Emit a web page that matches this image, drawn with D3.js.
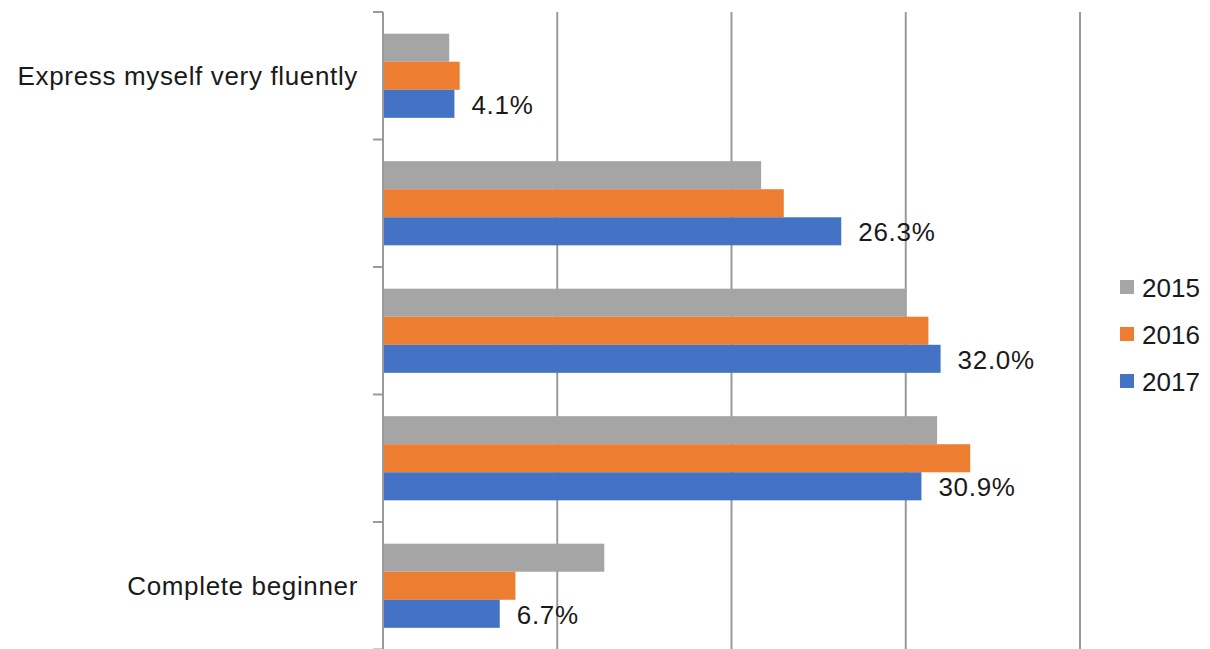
<!DOCTYPE html>
<html>
<head>
<meta charset="utf-8">
<script src="https://cdn.jsdelivr.net/npm/d3@7"></script>
<style>
  html, body { margin: 0; padding: 0; background: #fff; }
  svg { display: block; }
  text { font-family: "Liberation Sans", Arial, sans-serif; fill: #1a1a1a; }
</style>
</head>
<body>
<svg id="chart" width="1210" height="649"></svg>
<script>
// ---- data ----
const categories = ["c1", "c2", "c3", "c4", "c5"];
const tickLabels = ["Express myself very fluently", "", "", "", "Complete beginner"];
const seriesNames = ["2015", "2016", "2017"];
const values2015 = [3.8, 21.7, 30.0, 31.8, 12.7];
const values2016 = [4.4, 23.0, 31.3, 33.7, 7.6];
const values2017 = [4.1, 26.3, 32.0, 30.9, 6.7];
const valueLabels2017 = ["4.1%", "26.3%", "32.0%", "30.9%", "6.7%"];
const xTicks = [0, 10, 20, 30, 40];
const colors = ["#A5A5A5", "#ED7D31", "#4472C4"];

const seriesValues = [values2015, values2016, values2017];

(function () {
const svg = d3.select("#chart");
const mLeft = 383, mRight = 1080, mTop = 12, mBottom = 649.5;

const x = d3.scaleLinear().domain([0, 40]).range([mLeft, mRight]);
const y = d3.scaleBand().domain(categories).range([mTop, mBottom])
  .paddingInner(0.34).paddingOuter(0.17);
const y1 = d3.scaleBand().domain(seriesNames).range([0, y.bandwidth()]);
const color = d3.scaleOrdinal().domain(seriesNames).range(colors);

// gridlines
svg.append("g").selectAll("line").data(xTicks.filter(d => d > 0)).join("line")
  .attr("x1", d => x(d)).attr("x2", d => x(d))
  .attr("y1", mTop).attr("y2", 649)
  .attr("stroke", "#9a9a9a").attr("stroke-width", 2);

// bars
const groups = svg.append("g").selectAll("g").data(categories).join("g")
  .attr("transform", c => `translate(0,${y(c)})`);
groups.selectAll("rect")
  .data((c, i) => seriesNames.map((s, j) => ({ s, v: seriesValues[j][i] })))
  .join("rect")
  .attr("x", x(0))
  .attr("y", d => y1(d.s))
  .attr("width", d => x(d.v) - x(0))
  .attr("height", y1.bandwidth())
  .attr("fill", d => color(d.s));

// value labels (2017)
svg.append("g").selectAll("text").data(categories).join("text")
  .attr("x", (c, i) => x(values2017[i]) + 17)
  .attr("y", c => y(c) + y1("2017") + y1.bandwidth() / 2 + 1)
  .attr("dominant-baseline", "central")
  .attr("font-size", 26)
  .attr("letter-spacing", 0.7)
  .text((c, i) => valueLabels2017[i]);

// axis line and ticks
const step = y.step();
svg.append("line")
  .attr("x1", mLeft).attr("x2", mLeft).attr("y1", mTop).attr("y2", 649)
  .attr("stroke", "#9a9a9a").attr("stroke-width", 2);
svg.append("g").selectAll("line").data(d3.range(categories.length + 1)).join("line")
  .attr("x1", mLeft - 10).attr("x2", mLeft)
  .attr("y1", i => mTop + i * step).attr("y2", i => mTop + i * step)
  .attr("stroke", "#9a9a9a").attr("stroke-width", 2);

// category labels
svg.append("g").selectAll("text").data(categories).join("text")
  .attr("x", 358)
  .attr("y", c => y(c) + y.bandwidth() / 2)
  .attr("text-anchor", "end")
  .attr("dominant-baseline", "central")
  .attr("font-size", 26)
  .attr("letter-spacing", 0.65)
  .text((c, i) => tickLabels[i]);

// legend
const legend = svg.append("g").selectAll("g").data(seriesNames).join("g")
  .attr("transform", (s, i) => `translate(1120,${287 + i * 47})`);
legend.append("rect")
  .attr("x", 0).attr("y", -7).attr("width", 14).attr("height", 14)
  .attr("fill", s => color(s));
legend.append("text")
  .attr("x", 22).attr("y", 1)
  .attr("dominant-baseline", "central")
  .attr("font-size", 26)
  .text(s => s);
})();
</script>
</body>
</html>
